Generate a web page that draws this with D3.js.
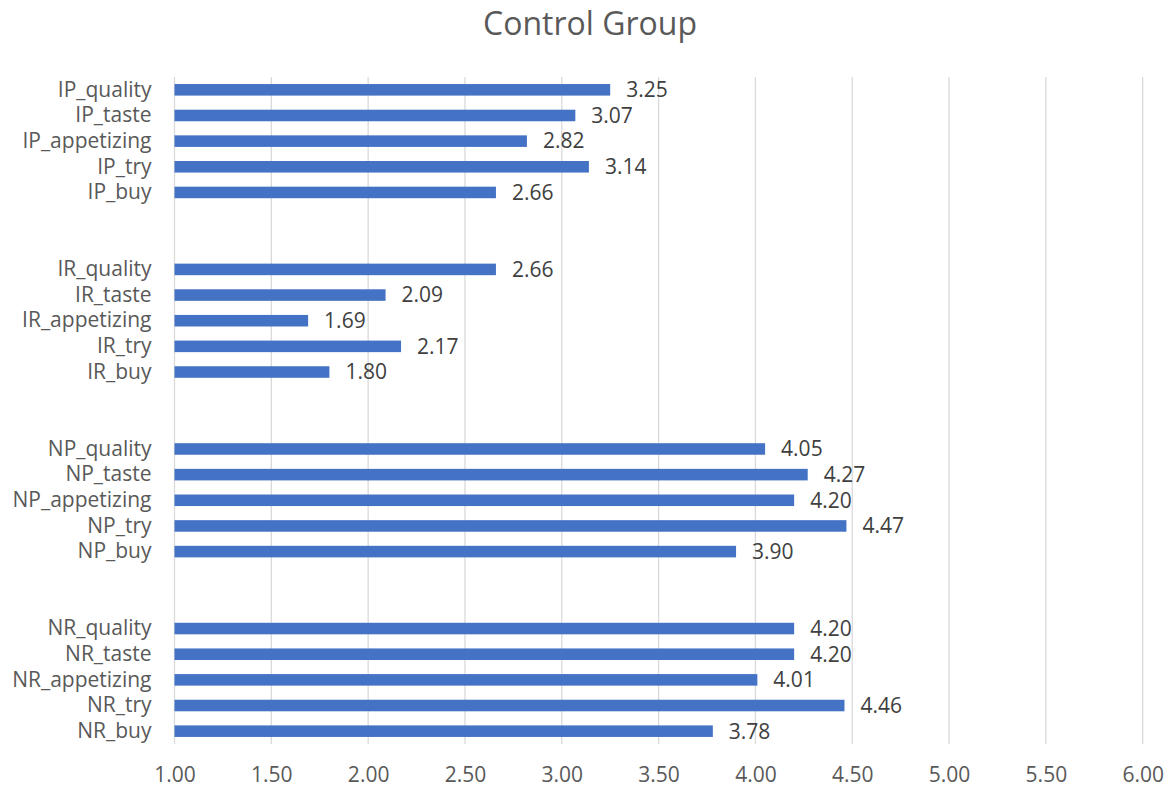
<!DOCTYPE html>
<html>
<head>
<meta charset="utf-8">
<script src="https://cdn.jsdelivr.net/npm/d3@7"></script>
<style>
  html, body { margin: 0; padding: 0; background: #fff; }
  svg { display: block; }
  text { font-family: "Open Sans", "Noto Sans", sans-serif; }
</style>
</head>
<body>
<svg id="chart" width="1172" height="791"></svg>
<script>
// Groups shown from top to bottom, each with five measures
const groups = ["IP", "IR", "NP", "NR"];
const measures = ["quality", "taste", "appetizing", "try", "buy"];

// Mean ratings per group, in the same order as `measures`
const ipValues = [3.25, 3.07, 2.82, 3.14, 2.66];
const irValues = [2.66, 2.09, 1.69, 2.17, 1.80];
const npValues = [4.05, 4.27, 4.20, 4.47, 3.90];
const nrValues = [4.20, 4.20, 4.01, 4.46, 3.78];

const xTicks = [1.00, 1.50, 2.00, 2.50, 3.00, 3.50, 4.00, 4.50, 5.00, 5.50, 6.00];
const title = "Control Group";

const valuesByGroup = { IP: ipValues, IR: irValues, NP: npValues, NR: nrValues };

// Build row list with two empty spacer slots between groups
const rows = [];
groups.forEach((g, gi) => {
  measures.forEach((m, mi) => {
    rows.push({ key: g + "_" + m, label: g + "_" + m, value: valuesByGroup[g][mi] });
  });
  if (gi < groups.length - 1) {
    rows.push({ key: "gap" + gi + "a", spacer: true });
    rows.push({ key: "gap" + gi + "b", spacer: true });
  }
});

const svg = d3.select("#chart");
const plot = { left: 174.5, right: 1142.7, top: 77, bottom: 744 };
const fontSize = 21;

const x = d3.scaleLinear().domain([1, 6]).range([plot.left, plot.right]);
const y = d3.scaleBand().domain(rows.map(r => r.key)).range([plot.top, plot.bottom]).padding(0);
const barH = y.bandwidth() * 0.45;

// Title
svg.append("text")
  .attr("x", 590).attr("y", 35)
  .attr("text-anchor", "middle")
  .attr("font-size", 32)
  .attr("fill", "#595959")
  .text(title);

// Vertical gridlines
svg.append("g")
  .selectAll("line")
  .data(xTicks)
  .join("line")
  .attr("x1", d => x(d)).attr("x2", d => x(d))
  .attr("y1", plot.top).attr("y2", plot.bottom)
  .attr("stroke", "#d9d9d9")
  .attr("stroke-width", 1.3);

// X axis tick labels
const xAxis = d3.axisBottom(x).tickValues(xTicks).tickFormat(d3.format(".2f")).tickSize(0).tickPadding(0);
const gx = svg.append("g").attr("transform", `translate(0,${plot.bottom + 38})`).call(xAxis);
gx.select(".domain").remove();
gx.selectAll("text").attr("font-size", fontSize).attr("fill", "#595959")
  .attr("font-family", '"Open Sans", sans-serif').attr("dy", "0");

const dataRows = rows.filter(r => !r.spacer);

// Category labels
const yAxis = d3.axisLeft(y).tickValues(dataRows.map(r => r.key)).tickSize(0).tickPadding(0);
const gy = svg.append("g").attr("transform", `translate(${plot.left - 23},0)`).call(yAxis);
gy.select(".domain").remove();
gy.selectAll("text").attr("font-size", fontSize).attr("fill", "#595959")
  .attr("font-family", '"Open Sans", sans-serif');

// Bars
svg.append("g")
  .selectAll("rect")
  .data(dataRows)
  .join("rect")
  .attr("x", x(1))
  .attr("y", d => y(d.key) + (y.bandwidth() - barH) / 2)
  .attr("width", d => x(d.value) - x(1))
  .attr("height", barH)
  .attr("fill", "#4472c4");

// Value labels
svg.append("g")
  .selectAll("text")
  .data(dataRows)
  .join("text")
  .attr("x", d => x(d.value) + 16)
  .attr("y", d => y(d.key) + y.bandwidth() / 2)
  .attr("dy", "0.35em")
  .attr("font-size", fontSize)
  .attr("fill", "#404040")
  .text(d => d.value.toFixed(2));
</script>
</body>
</html>
